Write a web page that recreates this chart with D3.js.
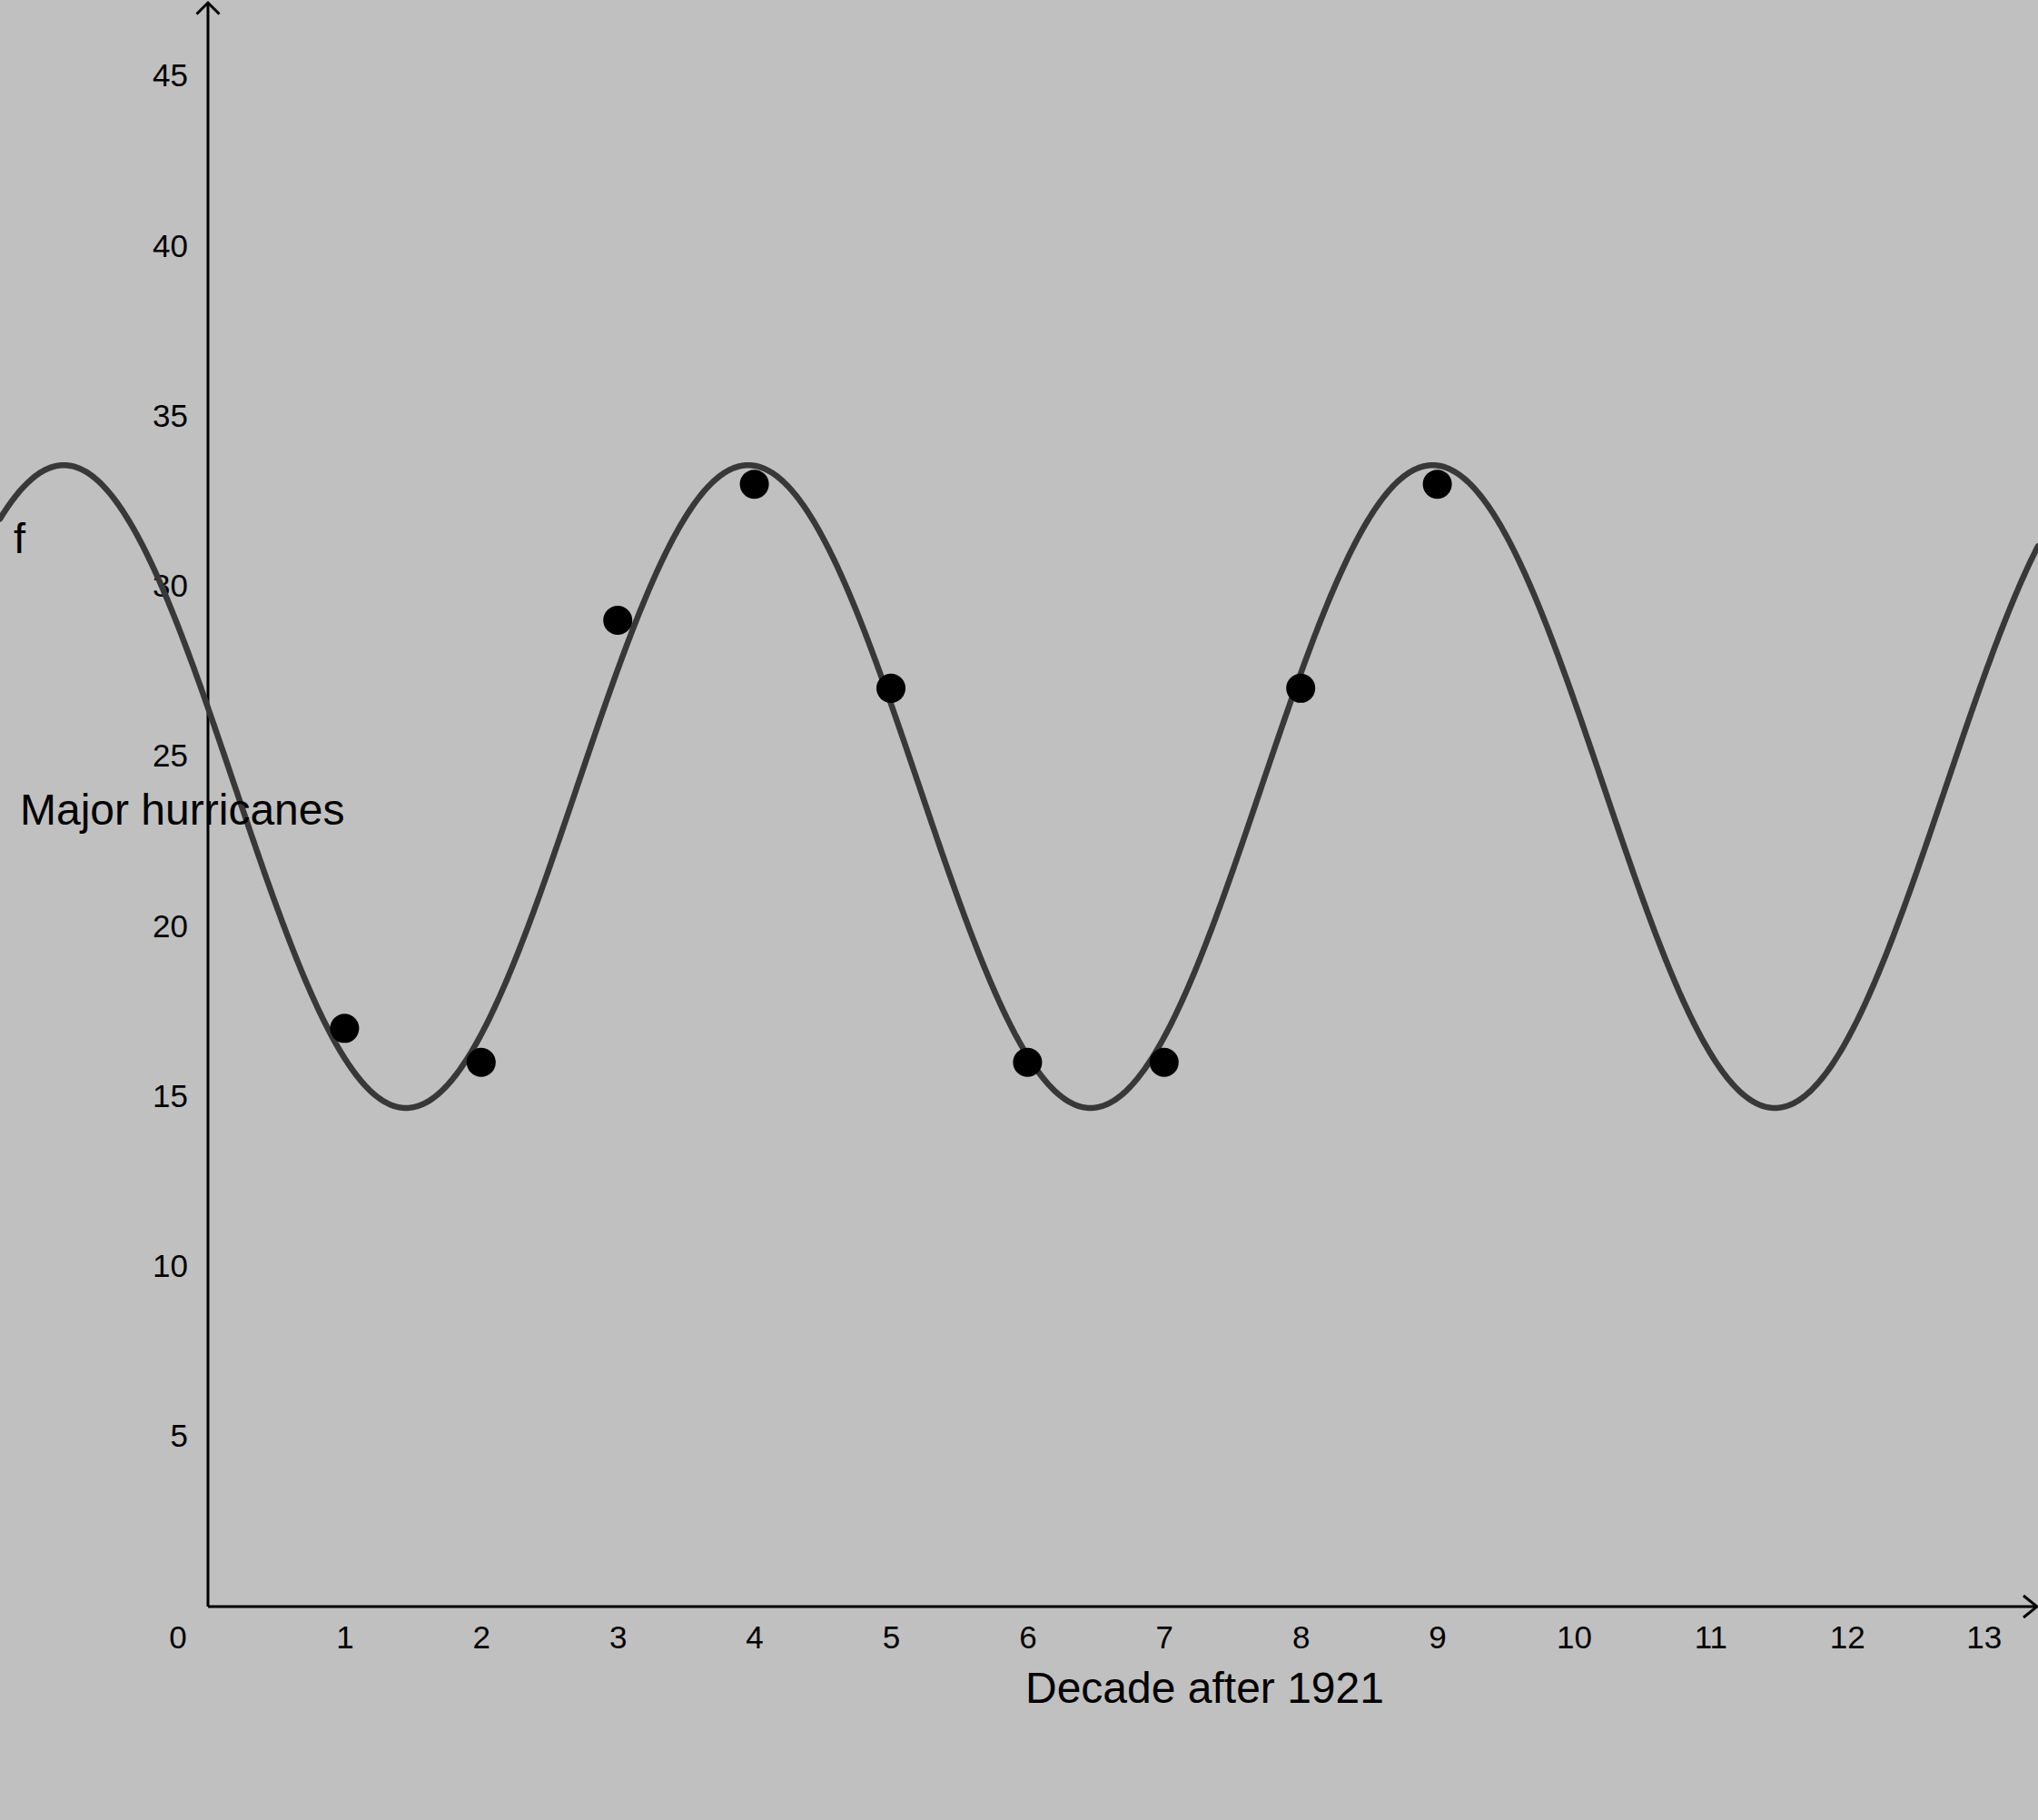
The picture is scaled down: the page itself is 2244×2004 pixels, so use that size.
<!DOCTYPE html>
<html>
<head>
<meta charset="utf-8">
<script src="https://cdn.jsdelivr.net/npm/d3@7"></script>
<style>
  html, body { margin: 0; padding: 0; background: #c0c0c0; }
  svg { display: block; }
  text { font-family: "Liberation Sans", Arial, sans-serif; fill: #000; }
</style>
</head>
<body>
<script>
// ---- data ----
const decades = [1, 2, 3, 4, 5, 6, 7, 8, 9];
const majorHurricanes = [17, 16, 29, 33, 27, 16, 16, 27, 33];
// sine regression f(x) = a*sin(b*x + c) + d
const fitParams = [9.45, 1.254, 2.894, 24.11];
const xTicks = [1, 2, 3, 4, 5, 6, 7, 8, 9, 10, 11, 12, 13];
const yTicks = [5, 10, 15, 20, 25, 30, 35, 40, 45];
const xLabel = "Decade after 1921";
const yLabel = "Major hurricanes";
const fnLabel = "f";

const W = 2244, H = 2004;
const x = d3.scaleLinear().domain([0, 13]).range([229, 229 + 13 * 150.4]);
const y = d3.scaleLinear().domain([0, 45]).range([1769, 1769 - 45 * 37.45]);

const svg = d3.select("body").append("svg").attr("width", W).attr("height", H);
svg.append("rect").attr("width", W).attr("height", H).attr("fill", "#c0c0c0");

const xMin = x.invert(0), xMax = x.invert(W);
const yTop = y.invert(3);

// axes lines with open arrowheads
const ax = svg.append("g").attr("stroke", "#000").attr("stroke-width", 3).attr("fill", "none");
ax.append("line").attr("x1", x(0)).attr("y1", y(0)).attr("x2", x(xMax) - 1).attr("y2", y(0));
ax.append("path").attr("d", d3.line()([[x(xMax) - 16, y(0) - 12], [x(xMax) - 1, y(0)], [x(xMax) - 16, y(0) + 12]]));
ax.append("line").attr("x1", x(0)).attr("y1", y(0)).attr("x2", x(0)).attr("y2", y(yTop));
ax.append("path").attr("d", d3.line()([[x(0) - 12.5, y(yTop) + 12.5], [x(0), y(yTop)], [x(0) + 12.5, y(yTop) + 12.5]]));

// tick labels via d3 axes
const xAxis = d3.axisBottom(x).tickValues(xTicks).tickSize(0).tickPadding(21).tickFormat(d3.format("d"));
const gx = svg.append("g").attr("transform", `translate(0,${y(0)})`).call(xAxis);
gx.select(".domain").remove();
gx.selectAll("text").attr("font-size", 35).attr("font-family", "Liberation Sans, Arial, sans-serif").attr("fill", "#000");

const yAxis = d3.axisLeft(y).tickValues(yTicks).tickSize(0).tickPadding(22).tickFormat(d3.format("d"));
const gy = svg.append("g").attr("transform", `translate(${x(0)},0)`).call(yAxis);
gy.select(".domain").remove();
gy.selectAll("text").attr("font-size", 35).attr("font-family", "Liberation Sans, Arial, sans-serif").attr("fill", "#000");

// origin label
svg.append("text").attr("x", x(0) - 33).attr("y", y(0) + 46)
  .attr("text-anchor", "middle").attr("font-size", 35).text("0");

// fitted curve
const [a, b, c, d] = fitParams;
const f = t => a * Math.sin(b * t + c) + d;
const samples = d3.range(0, 1201).map(i => xMin + (xMax - xMin) * i / 1200);
svg.append("path")
  .datum(samples)
  .attr("fill", "none")
  .attr("stroke", "#383838")
  .attr("stroke-width", 6.5)
  .attr("stroke-linecap", "round")
  .attr("d", d3.line().x(t => x(t)).y(t => y(f(t))));

// data points
svg.append("g").selectAll("circle")
  .data(decades.map((dd, i) => [dd, majorHurricanes[i]]))
  .join("circle")
  .attr("cx", p => x(p[0]))
  .attr("cy", p => y(p[1]))
  .attr("r", 16)
  .attr("fill", "#000");

// labels
svg.append("text").attr("x", 22).attr("y", 908).attr("font-size", 48).text(yLabel);
svg.append("text").attr("x", 1129).attr("y", 1875).attr("font-size", 48).text(xLabel);
svg.append("text").attr("x", 15).attr("y", 609).attr("font-size", 47).text(fnLabel);
</script>
</body>
</html>
